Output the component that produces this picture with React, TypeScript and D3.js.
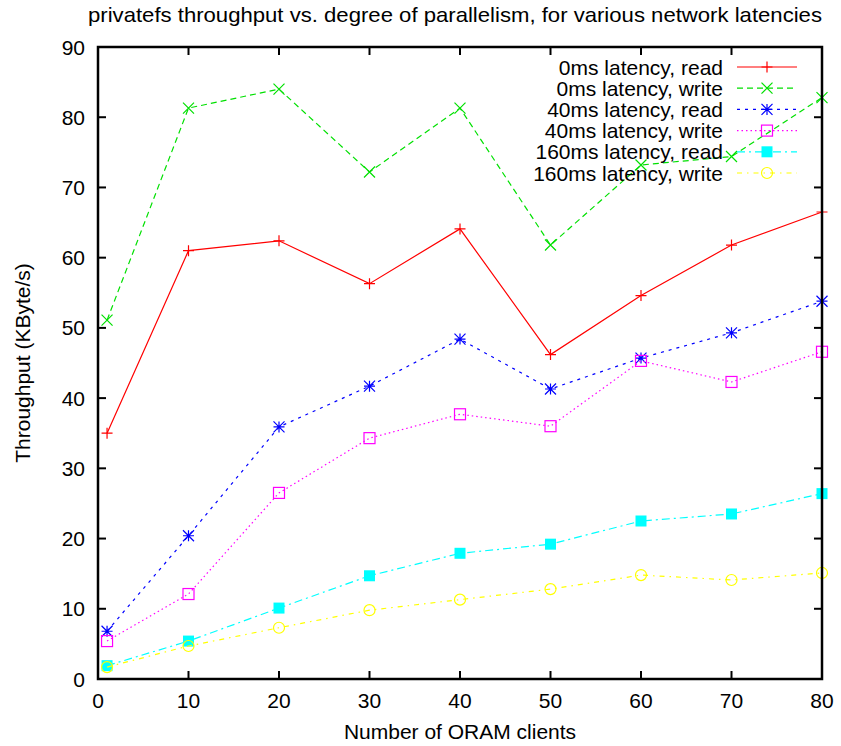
import React from "react";
import * as d3 from "d3";

const clients = [1, 10, 20, 30, 40, 50, 60, 70, 80];
const read0 = [35.0, 61.0, 62.4, 56.3, 64.1, 46.2, 54.6, 61.8, 66.5];
const write0 = [51.1, 81.3, 84.0, 72.2, 81.3, 61.8, 73.2, 74.4, 82.8];
const read40 = [6.8, 20.4, 35.9, 41.7, 48.4, 41.3, 45.7, 49.3, 53.8];
const write40 = [5.4, 12.1, 26.5, 34.3, 37.7, 36.0, 45.3, 42.3, 46.6];
const read160 = [1.9, 5.4, 10.1, 14.7, 17.9, 19.2, 22.5, 23.5, 26.4];
const write160 = [1.7, 4.7, 7.3, 9.8, 11.3, 12.8, 14.8, 14.1, 15.1];
const xTicks = [0, 10, 20, 30, 40, 50, 60, 70, 80];
const yTicks = [0, 10, 20, 30, 40, 50, 60, 70, 80, 90];

const seriesNames = [
  "0ms latency, read",
  "0ms latency, write",
  "40ms latency, read",
  "40ms latency, write",
  "160ms latency, read",
  "160ms latency, write",
];
const seriesValues = [read0, write0, read40, write40, read160, write160];
const colors = ["#ff0000", "#00e000", "#0000ff", "#ff00ff", "#00ffff", "#ffff00"];
const dashes = ["none", "6,4", "3,5", "1.5,3", "8,4,2,4", "5,5,1.5,5"];
const markers = ["plus", "cross", "star", "box", "fbox", "circle"];

const W = 841, H = 746;
const L = 98, R = 822, T = 47, B = 679;
const FONT = "'Liberation Sans', Arial, Helvetica, sans-serif";
const FS = 21;

function Marker({ type, x, y, color }: { type: string; x: number; y: number; color: string }) {
  const s = 5.5;
  switch (type) {
    case "plus":
      return <path d={`M${x - s},${y}H${x + s}M${x},${y - s}V${y + s}`} stroke={color} strokeWidth={1.2} fill="none" />;
    case "cross":
      return <path d={`M${x - s},${y - s}L${x + s},${y + s}M${x - s},${y + s}L${x + s},${y - s}`} stroke={color} strokeWidth={1.2} fill="none" />;
    case "star":
      return (
        <path
          d={`M${x - s},${y}H${x + s}M${x},${y - s}V${y + s}M${x - s},${y - s}L${x + s},${y + s}M${x - s},${y + s}L${x + s},${y - s}`}
          stroke={color}
          strokeWidth={1.2}
          fill="none"
        />
      );
    case "box":
      return <rect x={x - s} y={y - s} width={2 * s} height={2 * s} stroke={color} strokeWidth={1.2} fill="none" />;
    case "fbox":
      return <rect x={x - s} y={y - s} width={2 * s} height={2 * s} fill={color} />;
    default:
      return <circle cx={x} cy={y} r={s} stroke={color} strokeWidth={1.2} fill="none" />;
  }
}

export default function App() {
  const x = d3.scaleLinear().domain([0, 80]).range([L, R]);
  const y = d3.scaleLinear().domain([0, 90]).range([B, T]);
  const line = d3
    .line<number>()
    .x((_, i) => x(clients[i]))
    .y((d) => y(d));
  const tl = 8;
  return (
    <svg width={W} height={H} style={{ display: "block", position: "absolute", left: 0, top: 0 }} fontFamily={FONT}>
      <rect width={W} height={H} fill="#fff" />
      <text x={455} y={22} fontSize={21} textAnchor="middle" fill="#000" textLength={734} lengthAdjust="spacingAndGlyphs">
        privatefs throughput vs. degree of parallelism, for various network latencies
      </text>
      {yTicks.map((t) => (
        <g key={"y" + t}>
          <line x1={L} x2={L + tl} y1={y(t)} y2={y(t)} stroke="#000" strokeWidth={2} />
          <line x1={R} x2={R - tl} y1={y(t)} y2={y(t)} stroke="#000" strokeWidth={2} />
          <text x={L - 13} y={y(t) + 7.5} fontSize={FS} textAnchor="end" fill="#000">
            {t}
          </text>
        </g>
      ))}
      {xTicks.map((t) => (
        <g key={"x" + t}>
          <line x1={x(t)} x2={x(t)} y1={B} y2={B - tl} stroke="#000" strokeWidth={2} />
          <line x1={x(t)} x2={x(t)} y1={T} y2={T + tl} stroke="#000" strokeWidth={2} />
          <text x={x(t)} y={B + 29} fontSize={FS} textAnchor="middle" fill="#000">
            {t}
          </text>
        </g>
      ))}
      <text x={460} y={739} fontSize={FS} textAnchor="middle" fill="#000">
        Number of ORAM clients
      </text>
      <text transform={`translate(30,${(T + B) / 2}) rotate(-90)`} fontSize={FS} textAnchor="middle" fill="#000">
        Throughput (KByte/s)
      </text>
      {seriesValues.map((vals, si) => (
        <g key={"s" + si}>
          <path d={line(vals) || ""} fill="none" stroke={colors[si]} strokeWidth={1.2} strokeDasharray={dashes[si]} />
          {vals.map((v, i) => (
            <Marker key={i} type={markers[si]} x={x(clients[i])} y={y(v)} color={colors[si]} />
          ))}
        </g>
      ))}
      {seriesNames.map((name, si) => {
        const ly = 67 + si * 21.2;
        return (
          <g key={"l" + si}>
            <text x={723} y={ly + 7.5} fontSize={FS} textAnchor="end" fill="#000">
              {name}
            </text>
            <line x1={737} x2={797} y1={ly} y2={ly} stroke={colors[si]} strokeWidth={1.2} strokeDasharray={dashes[si]} />
            <Marker type={markers[si]} x={767} y={ly} color={colors[si]} />
          </g>
        );
      })}
      <rect x={L} y={T} width={R - L} height={B - T} fill="none" stroke="#000" strokeWidth={2.5} />
    </svg>
  );
}
